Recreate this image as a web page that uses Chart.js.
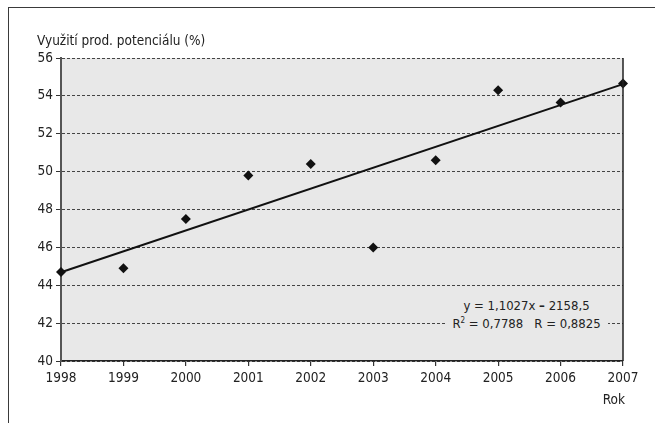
<!DOCTYPE html>
<html><head><meta charset="utf-8">
<script src="https://cdn.jsdelivr.net/npm/chart.js@4/dist/chart.umd.min.js"></script>
<style>
html,body{margin:0;padding:0;background:#fff;}
#wrap{position:relative;width:655px;height:423px;overflow:hidden;font-family:"DejaVu Sans Condensed","Liberation Sans Narrow",sans-serif;color:#222;}
#frame{position:absolute;left:8px;top:7px;width:700px;height:500px;border-top:1.5px solid #3a3a3a;border-left:1.5px solid #3a3a3a;}
#c{position:absolute;left:0;top:0;}
.t{position:absolute;white-space:nowrap;font-size:13.5px;line-height:18px;}
#eq{left:445px;top:297px;width:163px;background:#e8e8e8;text-align:center;font-size:13px;}
</style></head><body>
<div id="wrap">
<div id="frame"></div>
<canvas id="c" width="655" height="423"></canvas>
<div class="t" style="left:37px;top:31px;">Využití prod. potenciálu (%)</div>
<div class="t" style="right:30px;top:390px;">Rok</div>
<div class="t" id="eq">y = 1,1027x <b>–</b> 2158,5<br>R<sup style="font-size:8px;line-height:0;">2</sup> = 0,7788&nbsp;&nbsp;&nbsp;R = 0,8825</div>
</div>
<script>
const years = [1998, 1999, 2000, 2001, 2002, 2003, 2004, 2005, 2006, 2007];
const values = [44.7, 44.9, 47.5, 49.8, 50.4, 46.0, 50.6, 54.3, 53.65, 54.65];
const trendYears = [1998, 2007];
const trendValues = [44.69, 54.62];
const yTicks = [40, 42, 44, 46, 48, 50, 52, 54, 56];

const FONT = {family: '"DejaVu Sans Condensed","Liberation Sans Narrow",sans-serif', size: 13.5};

const bgPlugin = {
  id: 'bg',
  beforeDraw(chart) {
    const a = chart.chartArea, ctx = chart.ctx;
    ctx.save();
    ctx.fillStyle = '#e8e8e8';
    ctx.fillRect(a.left, a.top, a.right - a.left, a.bottom - a.top);
    ctx.restore();
  },
  afterDraw(chart) {
    const a = chart.chartArea, ctx = chart.ctx;
    ctx.save();
    ctx.strokeStyle = '#222';
    ctx.lineWidth = 1.5;
    ctx.beginPath();
    ctx.moveTo(a.right, a.top);
    ctx.lineTo(a.right, a.bottom);
    ctx.stroke();
    ctx.restore();
  }
};

new Chart(document.getElementById('c'), {
  data: {
    datasets: [
      {
        type: 'scatter',
        data: years.map((x, i) => ({x, y: values[i]})),
        pointStyle: 'rectRot',
        pointRadius: 5,
        pointBackgroundColor: '#111',
        pointBorderColor: '#111',
        pointBorderWidth: 0,
        clip: false,
        order: 1
      },
      {
        type: 'line',
        data: trendYears.map((x, i) => ({x, y: trendValues[i]})),
        borderColor: '#111',
        borderWidth: 2,
        pointRadius: 0,
        fill: false,
        clip: false,
        order: 2
      }
    ]
  },
  options: {
    responsive: false,
    animation: false,
    layout: {padding: {left: 0, right: 32, top: 58, bottom: 0}},
    plugins: {legend: {display: false}, tooltip: {enabled: false}},
    scales: {
      x: {
        type: 'linear',
        min: 1998, max: 2007,
        afterFit: s => { s.height = 62; },
        afterBuildTicks: s => { s.ticks = years.map(v => ({value: v})); },
        ticks: {
          callback: v => String(v),
          color: '#222', font: FONT, padding: 4, maxRotation: 0, autoSkip: false
        },
        grid: {drawOnChartArea: false, drawTicks: true, tickLength: 5, tickColor: '#333', lineWidth: 1.2},
        border: {display: true, color: '#222', width: 1.5}
      },
      y: {
        min: 40, max: 56,
        afterFit: s => { s.width = 61; },
        afterBuildTicks: s => { s.ticks = yTicks.map(v => ({value: v})); },
        ticks: {color: '#222', font: FONT, padding: 3},
        grid: {color: '#444', lineWidth: 1, drawTicks: true, tickLength: 5, tickColor: '#333', tickBorderDash: []},
        border: {display: true, color: '#555', width: 2, dash: [3, 2]}
      }
    }
  },
  plugins: [bgPlugin]
});
</script>
</body></html>
